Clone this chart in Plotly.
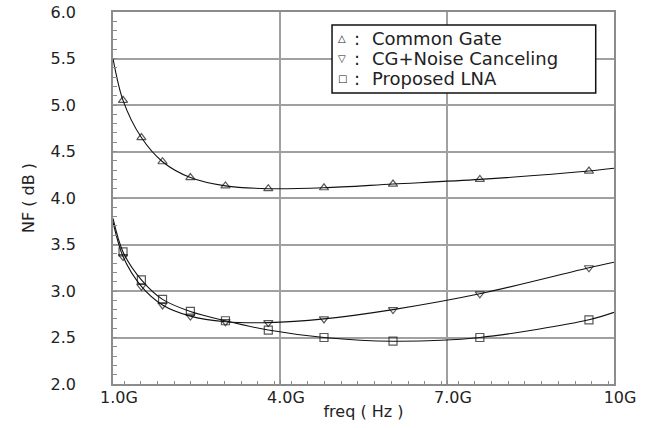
import plotly.graph_objects as go

# ---- data ----
freq_ghz = [1.0, 1.18, 1.51, 1.89, 2.39, 3.02, 3.79, 4.79, 6.03, 7.59, 9.55, 10.0]
nf_common_gate = [5.50, 5.05, 4.65, 4.39, 4.22, 4.13, 4.10, 4.11, 4.15, 4.20, 4.29, 4.32]
nf_cg_noise_cancel = [3.74, 3.37, 3.05, 2.85, 2.73, 2.67, 2.66, 2.70, 2.80, 2.97, 3.25, 3.31]
nf_proposed = [3.78, 3.42, 3.12, 2.91, 2.78, 2.68, 2.58, 2.50, 2.46, 2.50, 2.69, 2.77]
# markers are drawn on every point except the two curve end points
marker_on = [False] + [True] * 10 + [False]

series_names = ["Common Gate", "CG+Noise Canceling", "Proposed LNA"]
series_symbols = ["triangle-up-open", "triangle-down-open", "square-open"]
legend_glyphs = ["\u25b3", "\u25bd", "\u25a1"]

x_tick_vals_ghz = [1, 4, 7, 10]
y_tick_vals = [2.0, 2.5, 3.0, 3.5, 4.0, 4.5, 5.0, 5.5, 6.0]

freq_hz = [f * 1e9 for f in freq_ghz]

fig = go.Figure()
for name, sym, vals in zip(series_names, series_symbols,
                           [nf_common_gate, nf_cg_noise_cancel, nf_proposed]):
    sizes = [8 if m else 0 for m in marker_on]
    fig.add_trace(go.Scatter(
        x=freq_hz, y=vals, name=name, mode="lines+markers",
        line=dict(color="#111111", width=1.1, shape="spline", smoothing=0.9),
        marker=dict(symbol=sym, size=sizes, color="#111111",
                    line=dict(color="#111111", width=1.2)),
        showlegend=False,
    ))

font_family = "DejaVu Sans, Liberation Sans, sans-serif"
axis_color = "#8c8c8c"
text_color = "#222222"

# legend box drawn as a shape, with its text as annotations
legend_box = dict(x0=0.4372, x1=0.9635, y0=0.7823, y1=0.965)
legend_rows_y = [0.930, 0.875, 0.821]
legend_x_glyph, legend_x_colon, legend_x_name = 0.4445, 0.478, 0.513

annotations = []
for g, n, yy in zip(legend_glyphs, series_names, legend_rows_y):
    annotations.append(dict(xref="paper", yref="paper", x=legend_x_glyph, y=yy,
                            xanchor="left", yanchor="middle", text=g, showarrow=False,
                            font=dict(family=font_family, size=10, color=text_color)))
    annotations.append(dict(xref="paper", yref="paper", x=legend_x_colon, y=yy,
                            xanchor="left", yanchor="middle", text=":", showarrow=False,
                            font=dict(family=font_family, size=18, color=text_color)))
    annotations.append(dict(xref="paper", yref="paper", x=legend_x_name, y=yy,
                            xanchor="left", yanchor="middle", text=n, showarrow=False,
                            font=dict(family=font_family, size=18, color=text_color)))

fig.update_layout(
    width=651, height=428,
    margin=dict(l=113, r=37, t=12, b=44),
    paper_bgcolor="white", plot_bgcolor="white",
    font=dict(family=font_family, size=16, color=text_color),
    xaxis=dict(
        range=[1e9, 10e9],
        tickvals=[v * 1e9 for v in x_tick_vals_ghz],
        tickformat=".2s",
        ticks="inside", ticklen=4, tickcolor=axis_color,
        minor=dict(dtick=0.3e9, ticks="inside", ticklen=3, tickcolor=axis_color, showgrid=False),
        showgrid=True, gridcolor="#a0a0a0", gridwidth=1.5,
        showline=True, linecolor=axis_color, linewidth=1.5, mirror=True,
        zeroline=False,
        ticklabelshift=6, ticklabelstandoff=-2, ticklabeloverflow="allow",
        tickfont=dict(size=16),
        title=dict(text="freq ( Hz )", standoff=0, font=dict(size=16)),
        automargin=False,
    ),
    yaxis=dict(
        range=[2, 6],
        tickvals=y_tick_vals,
        tickformat=".1f",
        ticks="inside", ticklen=4, tickcolor=axis_color,
        minor=dict(dtick=0.1, ticks="inside", ticklen=4, tickcolor=axis_color, showgrid=False),
        showgrid=True, gridcolor="#a0a0a0", gridwidth=1.5,
        showline=True, linecolor=axis_color, linewidth=1.5, mirror=True,
        zeroline=False,
        ticklabelstandoff=32, ticklabeloverflow="allow",
        tickfont=dict(size=16),
        title=dict(text="NF ( dB )", standoff=12, font=dict(size=16)),
        automargin=False,
    ),
    shapes=[dict(type="rect", xref="paper", yref="paper", layer="above",
                 fillcolor="white", line=dict(color="#111111", width=1.5), **legend_box)],
    annotations=annotations,
)

# remove the browser's default 8px body margin so the figure fills the window exactly
fig.write_html("out.html", config={"displayModeBar": False},
               post_script="document.body.style.margin='0';")
